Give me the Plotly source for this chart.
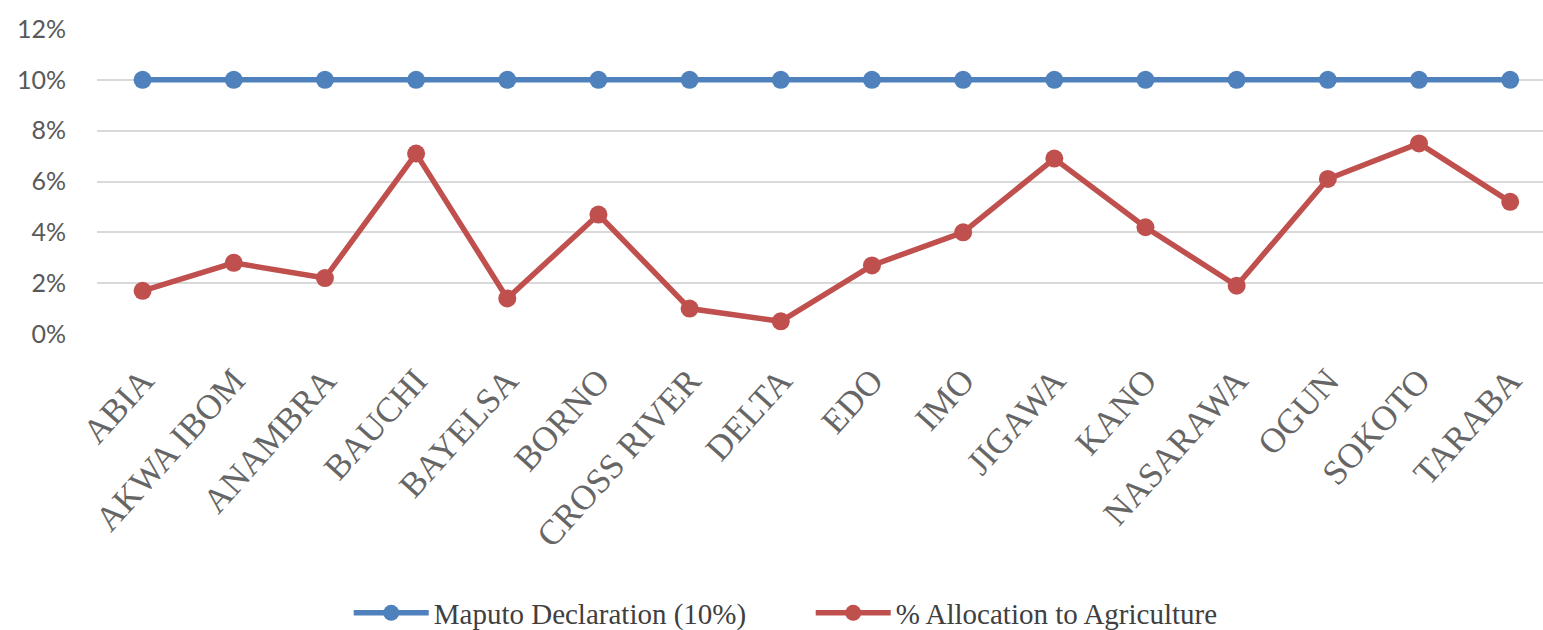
import plotly.graph_objects as go

# States covered
states = ["ABIA", "AKWA IBOM", "ANAMBRA", "BAUCHI", "BAYELSA", "BORNO",
          "CROSS RIVER", "DELTA", "EDO", "IMO", "JIGAWA", "KANO",
          "NASARAWA", "OGUN", "SOKOTO", "TARABA"]

# Maputo Declaration target (10% of budget)
maputo_target = [10] * len(states)

# Share of state budget allocated to agriculture (%)
agric_allocation = [1.7, 2.8, 2.2, 7.1, 1.4, 4.7, 1.0, 0.5,
                    2.7, 4.0, 6.9, 4.2, 1.9, 6.1, 7.5, 5.2]

y_ticks = [0, 2, 4, 6, 8, 10, 12]
y_tick_text = ["0%", "2%", "4%", "6%", "8%", "10%", "12%"]

BLUE = "#4F81BD"
RED = "#C0504D"

fig = go.Figure()
fig.add_trace(go.Scatter(
    x=states, y=maputo_target, name="Maputo Declaration (10%)",
    mode="lines+markers",
    line=dict(color=BLUE, width=5.5),
    marker=dict(color=BLUE, size=18),
))
fig.add_trace(go.Scatter(
    x=states, y=agric_allocation, name="% Allocation to Agriculture",
    mode="lines+markers",
    line=dict(color=RED, width=5.5),
    marker=dict(color=RED, size=18),
))

fig.update_layout(
    width=1543, height=630,
    margin=dict(l=97, r=0, t=29, b=295.5),
    plot_bgcolor="white", paper_bgcolor="white",
    showlegend=True,
    legend=dict(
        orientation="h",
        xref="container", yref="container",
        x=0.226, xanchor="left",
        y=0.027, yanchor="middle",
        font=dict(family="Liberation Serif", size=29, color="#404040"),
        itemwidth=75,
        entrywidth=372,
        traceorder="normal",
    ),
    xaxis=dict(
        type="category",
        range=[-0.5, 15.36],
        showgrid=False, zeroline=False, showline=False,
        ticks="",
        tickangle=-48,
        ticklabelstandoff=18,
        tickfont=dict(family="Liberation Serif", size=35, color="#666666"),
    ),
    yaxis=dict(
        range=[0, 12],
        tickvals=y_ticks, ticktext=y_tick_text,
        showgrid=True, gridcolor="#d9d9d9", gridwidth=1.5,
        zeroline=False, showline=False,
        ticks="",
        ticklabelstandoff=30,
        tickfont=dict(family="Lato", size=25, color="#595959"),
    ),
)

fig.write_html("out.html")
